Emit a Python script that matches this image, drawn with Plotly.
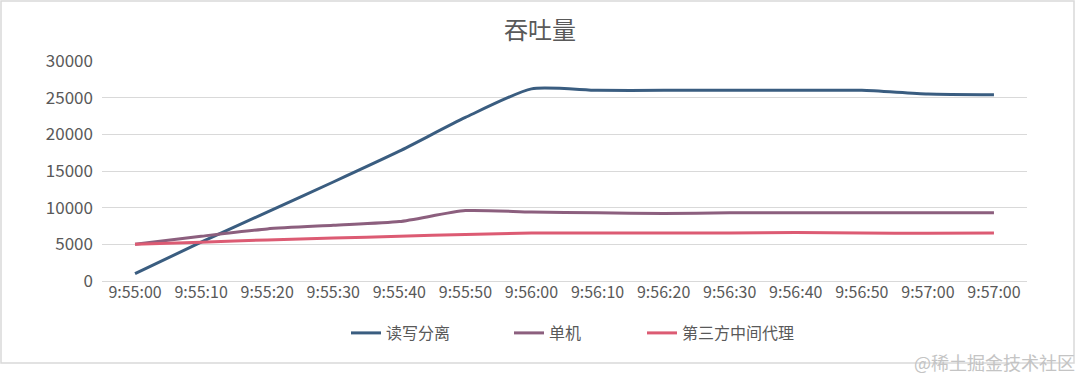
import plotly.graph_objects as go

times = ["9:55:00", "9:55:10", "9:55:20", "9:55:30", "9:55:40", "9:55:50", "9:56:00",
         "9:56:10", "9:56:20", "9:56:30", "9:56:40", "9:56:50", "9:57:00", "9:57:00"]
rw_split = [1000, 5300, 9400, 13500, 17700, 22300, 26200, 26000, 26000, 26000, 26000, 26000, 25500, 25400]
single = [5000, 6100, 7100, 7600, 8100, 9600, 9400, 9300, 9200, 9300, 9300, 9300, 9300, 9300]
proxy = [5000, 5300, 5600, 5850, 6100, 6350, 6550, 6550, 6550, 6550, 6600, 6550, 6500, 6550]

series = [("读写分离", rw_split, "#3a5d80"),
          ("单机", single, "#8c5f7e"),
          ("第三方中间代理", proxy, "#dc5b73")]
legend_ids = ["legend", "legend2", "legend3"]
legend_left_px = [346, 509, 642]

L, R, T, B = 102, 53, 61, 95
PW, PH = 1080 - L - R, 376 - T - B


def px_x(px):
    return (px - L) / PW


def px_y(py):
    return (376 - B - py) / PH


idx = list(range(len(times)))
fig = go.Figure()
for (name, vals, color), lg in zip(series, legend_ids):
    fig.add_trace(go.Scatter(x=idx, y=vals, name=name, mode="lines", legend=lg,
                             line=dict(color=color, width=3, shape="spline", smoothing=0.6)))

font = "Noto Sans CJK SC, Microsoft YaHei, sans-serif"
legend_common = dict(orientation="h", yanchor="middle", xanchor="left",
                     font=dict(size=16, color="#595959", family=font),
                     bgcolor="rgba(0,0,0,0)")
fig.update_layout(
    width=1080, height=376,
    margin=dict(l=L, r=R, t=T, b=B),
    paper_bgcolor="white", plot_bgcolor="white",
    font=dict(family=font, size=13, color="#595959"),
    title=dict(text="吞吐量", x=0.5, xanchor="center", y=1 - 31 / 376, yanchor="middle",
               font=dict(size=24, color="#595959", family=font)),
    xaxis=dict(range=[-0.5, len(times) - 0.5], tickvals=idx, ticktext=times,
               showgrid=False, zeroline=False, showline=False, ticks="",
               tickfont=dict(size=16, color="#595959")),
    yaxis=dict(range=[0, 30000], dtick=5000, showgrid=True, gridcolor="#d9d9d9", gridwidth=1,
               zeroline=True, zerolinecolor="#d9d9d9", zerolinewidth=1, ticks="",
               tickformat="d", ticklabelstandoff=8,
               tickfont=dict(size=17, color="#595959")),
    legend=dict(x=px_x(legend_left_px[0]), y=px_y(333), **legend_common),
    legend2=dict(x=px_x(legend_left_px[1]), y=px_y(333), **legend_common),
    legend3=dict(x=px_x(legend_left_px[2]), y=px_y(333), **legend_common),
    showlegend=True,
)
fig.add_shape(type="rect", xref="paper", yref="paper",
              x0=px_x(1), x1=px_x(1074), y0=px_y(363), y1=px_y(1),
              line=dict(color="#d9d9d9", width=1.5), layer="below")
fig.add_annotation(text="@稀土掘金技术社区", xref="paper", yref="paper",
                   x=px_x(1077), y=px_y(362), xanchor="right", yanchor="middle",
                   showarrow=False, font=dict(size=18, color="#c4c4c4", family=font))
fig.write_html("out.html", config={"displayModeBar": False},
               post_script="document.body.style.margin='0';")
